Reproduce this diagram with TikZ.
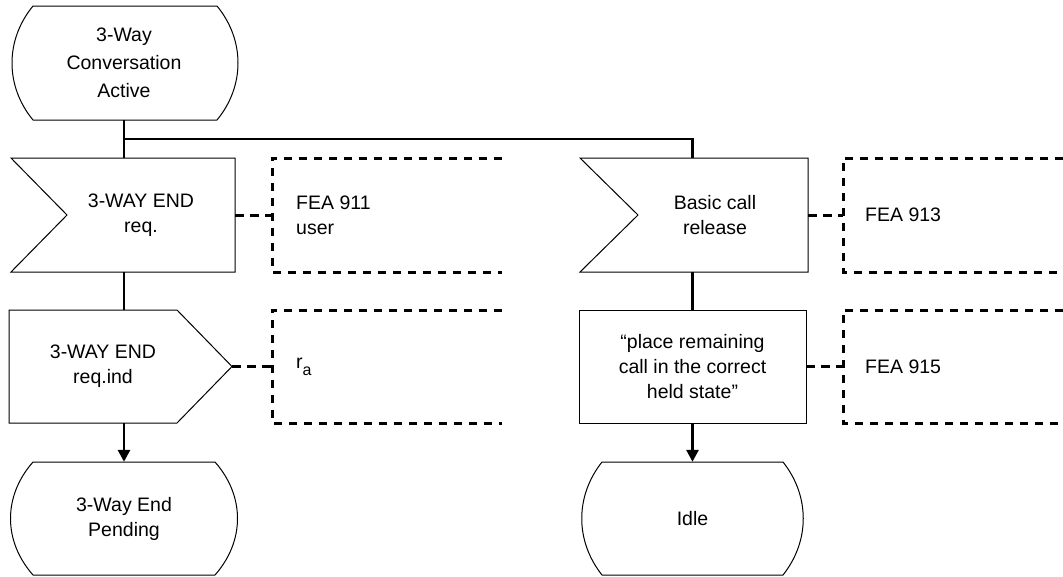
\documentclass[tikz,border=0pt]{standalone}
\usepackage{fontspec}
\setmainfont{Liberation Sans}
\usetikzlibrary{arrows.meta,calc}
\begin{document}
\begin{tikzpicture}[x=1pt,y=-1pt,
  outline/.style={draw=black,line width=1pt,line join=miter},
  conn/.style={draw=black,line width=2.8pt},
  arr/.style={conn,-{Triangle[width=12pt,length=12pt]}},
  annot/.style={draw=black,line width=3pt,dash pattern=on 8.3pt off 6.7pt},
  lbl/.style={font=\fontsize{19.5}{25}\selectfont,align=center,inner sep=0pt},
  albl/.style={font=\fontsize{19.5}{25}\selectfont,align=left,inner sep=0pt,anchor=west}]
\useasboundingbox (0,0) rectangle (1063,576);
% ---------- shapes (outlines) ----------
% top state
\draw[outline] (33,6) -- (217,6) .. controls (245,40) and (245,86) .. (217,120) -- (33,120) .. controls (5,86) and (5,40) .. cycle;
% input signal left
\draw[outline] (11,158) -- (235,158) -- (235,272) -- (11,272) -- (67,215) -- cycle;
% output signal left
\draw[outline] (9,310) -- (177,310) -- (232,366.5) -- (177,423) -- (9,423) -- cycle;
% bottom-left state
\draw[outline] (33,462) -- (215,462) .. controls (245,496) and (245,541) .. (215,575) -- (33,575) .. controls (3,541) and (3,496) .. cycle;
% input signal right
\draw[outline] (580,158) -- (808,158) -- (808,272) -- (580,272) -- (638,215) -- cycle;
% task box
\draw[outline] (579,310) rectangle (806,423);
% idle state
\draw[outline] (602,462) -- (783,462) .. controls (810,496) and (810,541) .. (783,575) -- (602,575) .. controls (575,541) and (575,496) .. cycle;
% annotation boxes (open on the right)
\draw[annot] (502,158) -- (272,158) -- (272,272) -- (502,272);
\draw[annot] (502,310) -- (272,310) -- (272,423) -- (502,423);
\draw[annot] (1063,158) -- (843,158) -- (843,272) -- (1063,272);
\draw[annot] (1063,310) -- (843,310) -- (843,423) -- (1063,423);
% ---------- nodes ----------
\node[lbl,minimum height=114pt,minimum width=228pt,font=\fontsize{19.5}{28}\selectfont] (s1) at (124,63) {3-Way\\Conversation\\Active};
\node[lbl,minimum height=114pt,minimum width=188pt] (in1) at (141,215) {3-WAY END\\req.};
\node[lbl,minimum height=113pt,minimum width=258pt] (out1) at (103,366.5) {3-WAY END\\req.ind};
\node[lbl,minimum height=113pt,minimum width=228pt] (s2) at (124,518.5) {3-Way End\\Pending};
\node[lbl,minimum height=114pt,minimum width=186pt] (in2) at (715,215) {Basic call\\release};
\node[lbl,minimum height=113pt,minimum width=227pt] (tk) at (692.5,366.5) {``place remaining\\call in the correct\\held state''};
\node[lbl,minimum height=113pt,minimum width=226pt] (idle) at (692.5,518.5) {Idle};
\coordinate (a1) at (272,215);
\coordinate (a2) at (272,366.5);
\coordinate (a3) at (843,215);
\coordinate (a4) at (843,366.5);
\node[albl] (t1) at (296,215) {FEA 911\\user};
\node[albl] (t2) at (296,366.5) {r\raisebox{-7pt}{\fontsize{16}{16}\selectfont a}};
\node[albl] (t3) at (865,215) {FEA 913};
\node[albl] (t4) at (865,366.5) {FEA 915};
\coordinate (j) at (124,139);
% ---------- connectors ----------
\draw[conn] (s1.south) -- (s1.south |- in1.north);
\draw[conn] (s1.south |- in1.south) -- (s1.south |- out1.north);
\draw[arr] (s1.south |- out1.south) -- (s2.north);
\draw[conn] (j) -| (tk.north |- in2.north);
\draw[conn] (tk.north |- in2.south) -- (tk.north);
\draw[arr] (tk.south) -- (idle.north);
\draw[annot] (in1.east) -- (a1);
\draw[annot] (out1.east) -- (a2);
\draw[annot] (in2.east) -- (a3);
\draw[annot] (tk.east) -- (a4);
\end{tikzpicture}
\end{document}
